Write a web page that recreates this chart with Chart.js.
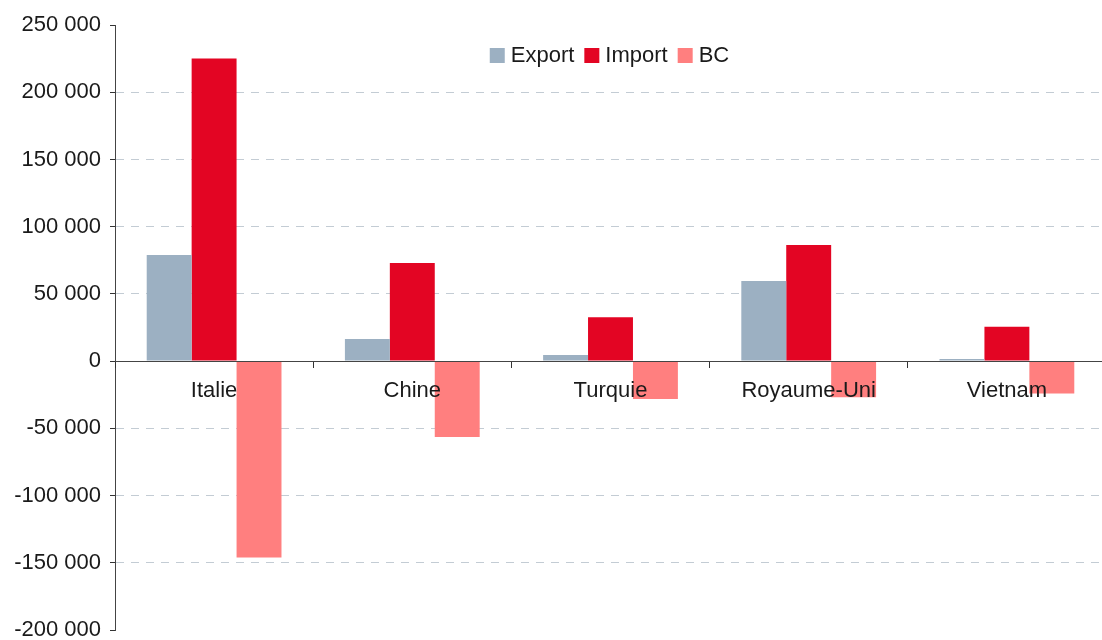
<!DOCTYPE html>
<html>
<head>
<meta charset="utf-8">
<script src="https://cdn.jsdelivr.net/npm/chart.js@4/dist/chart.umd.min.js"></script>
<style>
html,body{margin:0;padding:0;background:#fff;}
#wrap{width:1102px;height:640px;overflow:hidden;}
</style>
</head>
<body>
<div id="wrap"><canvas id="c" width="1102" height="640"></canvas></div>
<script>
const categories = ['Italie', 'Chine', 'Turquie', 'Royaume-Uni', 'Vietnam'];
const seriesNames = ['Export', 'Import', 'BC'];
const exportValues = [79000, 16500, 4500, 59500, 1500];
const importValues = [225000, 73000, 32700, 86300, 25500];
const bcValues = [-146000, -56500, -28200, -26800, -24000];
const yTicks = [-200000, -150000, -100000, -50000, 0, 50000, 100000, 150000, 200000, 250000];

function fmt(v) {
  const s = String(Math.abs(v)).replace(/\B(?=(\d{3})+(?!\d))/g, ' ');
  return (v < 0 ? '-' : '') + s;
}

Chart.defaults.font.family = '"Liberation Sans", Arial, sans-serif';
Chart.defaults.font.size = 22;
Chart.defaults.color = '#1a1a1a';

// The category axis of the original runs slightly past the right edge of the picture.
const extendCategoryAxis = {
  id: 'extendCategoryAxis',
  afterLayout(chart) {
    const x = chart.scales.x;
    x.right += 4;
    x.width += 4;
    x.configure();
  }
};

const legendPlugin = {
  id: 'customLegend',
  afterDraw(chart) {
    const ctx = chart.ctx;
    ctx.save();
    ctx.font = '22px "Liberation Sans", Arial, sans-serif';
    const box = 15, gapBox = 6, gapItem = 10;
    const items = chart.data.datasets.map(d => ({label: d.label, color: d.backgroundColor, w: ctx.measureText(d.label).width}));
    const total = items.reduce((s, it) => s + box + gapBox + it.w, 0) + gapItem * (items.length - 1);
    let x = (chart.chartArea.left + chart.chartArea.right) / 2 + 1 - total / 2;
    const cy = 55;
    items.forEach(it => {
      ctx.fillStyle = it.color;
      ctx.fillRect(x, cy - 7, box, box);
      x += box + gapBox;
      ctx.fillStyle = '#1a1a1a';
      ctx.textBaseline = 'middle';
      ctx.textAlign = 'left';
      ctx.fillText(it.label, x, cy + 1);
      x += it.w + gapItem;
    });
    ctx.restore();
  }
};

new Chart(document.getElementById('c'), {
  type: 'bar',
  data: {
    labels: categories,
    datasets: [
      {label: seriesNames[0], data: exportValues, backgroundColor: '#9cb0c2'},
      {label: seriesNames[1], data: importValues, backgroundColor: '#e30523'},
      {label: seriesNames[2], data: bcValues, backgroundColor: '#ff7f7f'}
    ]
  },
  options: {
    responsive: false,
    animation: false,
    categoryPercentage: 0.68,
    barPercentage: 1,
    layout: {padding: {top: 25, bottom: 10, left: 0, right: 0}},
    plugins: {legend: {display: false}, tooltip: {enabled: false}},
    scales: {
      x: {
        position: {y: 0},
        grid: {offset: true, drawOnChartArea: false, tickLength: 6, tickColor: '#333', lineWidth: 1, z: 1},
        border: {color: '#444', width: 1, z: 1},
        ticks: {padding: 11, color: '#1a1a1a', maxRotation: 0, autoSkip: false, z: 2}
      },
      y: {
        min: -200000,
        max: 250000,
        afterBuildTicks: s => { s.ticks = yTicks.map(v => ({value: v})); },
        afterFit: s => { s.width = 115; s.paddingTop = 0; s.paddingBottom = 0; },
        grid: {
          color: c => (c.tick && (c.tick.value === 0 || c.tick.value === 250000 || c.tick.value === -200000)) ? 'rgba(0,0,0,0)' : '#c3ccd4',
          tickColor: '#333',
          tickLength: 5,
          lineWidth: 1
        },
        border: {color: '#444', width: 1, dash: [8, 7]},
        ticks: {padding: 9, color: '#1a1a1a', callback: v => fmt(v)}
      }
    }
  },
  plugins: [extendCategoryAxis, legendPlugin]
});
</script>
</body>
</html>
